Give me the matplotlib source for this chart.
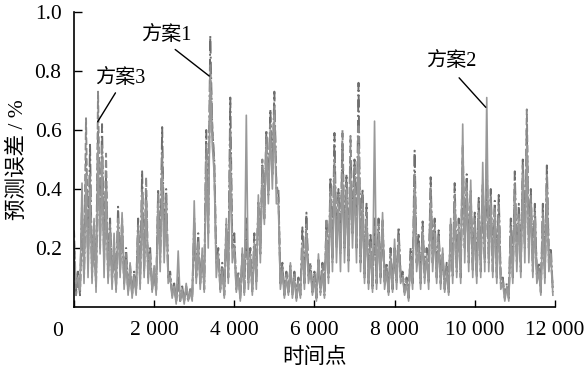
import numpy as np
import matplotlib
matplotlib.use("Agg")
import matplotlib.pyplot as plt

plt.rcParams['font.family'] = ['Liberation Serif', 'Noto Sans CJK SC']

step = 50  # time points between consecutive samples

# peaks (at multiples of 100) and troughs (in between)
s1_peaks = [0.22,0.12,0.35,0.50,0.55,0.28,0.60,0.62,0.45,0.30,0.22,0.34,0.28,0.20,0.14,0.12,0.30,0.46,0.38,0.20,
            0.12,0.40,0.61,0.40,0.12,0.08,0.10,0.07,0.06,0.06,0.30,0.25,0.18,0.60,0.92,0.50,0.20,0.15,0.28,0.71,
            0.25,0.12,0.18,0.30,0.20,0.25,0.36,0.48,0.60,0.67,0.73,0.40,0.15,0.12,0.14,0.12,0.10,0.27,0.32,0.15,
            0.12,0.16,0.15,0.28,0.44,0.59,0.40,0.55,0.45,0.50,0.50,0.76,0.40,0.35,0.25,0.30,0.30,0.28,0.15,0.20,
            0.20,0.27,0.12,0.10,0.20,0.53,0.25,0.29,0.20,0.44,0.30,0.26,0.18,0.15,0.28,0.42,0.30,0.50,0.45,0.40,
            0.32,0.37,0.40,0.50,0.40,0.36,0.38,0.10,0.08,0.30,0.46,0.35,0.50,0.60,0.40,0.35,0.15,0.35,0.48,0.20]
s1_troughs = [0.05,0.04,0.10,0.15,0.10,0.07,0.20,0.15,0.10,0.08,0.06,0.12,0.08,0.05,0.04,0.05,0.08,0.12,0.10,0.06,
              0.05,0.15,0.20,0.10,0.04,0.02,0.02,0.02,0.02,0.03,0.10,0.08,0.06,0.25,0.60,0.15,0.06,0.04,0.10,0.20,
              0.06,0.03,0.05,0.08,0.05,0.08,0.18,0.30,0.38,0.45,0.40,0.08,0.04,0.05,0.04,0.03,0.04,0.08,0.10,0.05,
              0.03,0.05,0.04,0.10,0.15,0.20,0.18,0.20,0.15,0.25,0.20,0.15,0.10,0.08,0.06,0.08,0.10,0.08,0.05,0.06,
              0.08,0.10,0.05,0.03,0.08,0.15,0.08,0.10,0.08,0.15,0.10,0.08,0.06,0.05,0.10,0.12,0.10,0.20,0.15,0.12,
              0.10,0.12,0.15,0.15,0.12,0.10,0.08,0.03,0.03,0.10,0.15,0.12,0.20,0.20,0.12,0.10,0.05,0.10,0.15,0.05]

s2_peaks = [0.18,0.10,0.42,0.45,0.40,0.30,0.55,0.50,0.40,0.25,0.25,0.30,0.32,0.16,0.15,0.10,0.25,0.38,0.36,0.18,
            0.14,0.35,0.45,0.35,0.10,0.07,0.19,0.06,0.08,0.05,0.36,0.22,0.20,0.50,0.78,0.45,0.18,0.12,0.30,0.50,
            0.20,0.10,0.20,0.65,0.18,0.22,0.38,0.45,0.55,0.60,0.65,0.35,0.12,0.10,0.15,0.10,0.08,0.22,0.25,0.12,
            0.10,0.18,0.12,0.25,0.38,0.45,0.35,0.45,0.40,0.45,0.42,0.55,0.35,0.30,0.20,0.63,0.25,0.32,0.12,0.16,
            0.23,0.22,0.10,0.08,0.16,0.40,0.20,0.25,0.18,0.35,0.25,0.22,0.20,0.12,0.30,0.35,0.28,0.62,0.40,0.43,
            0.28,0.32,0.49,0.71,0.35,0.32,0.30,0.08,0.07,0.25,0.38,0.30,0.45,0.55,0.35,0.30,0.12,0.30,0.40,0.18]
s2_troughs = [0.08,0.06,0.08,0.10,0.08,0.05,0.18,0.10,0.08,0.06,0.05,0.10,0.06,0.04,0.03,0.04,0.06,0.10,0.08,0.05,
              0.04,0.12,0.15,0.08,0.03,0.01,0.02,0.01,0.02,0.02,0.08,0.06,0.05,0.20,0.55,0.10,0.05,0.03,0.08,0.15,
              0.05,0.02,0.04,0.06,0.04,0.06,0.15,0.28,0.35,0.40,0.35,0.06,0.03,0.04,0.03,0.02,0.03,0.06,0.08,0.04,
              0.02,0.04,0.03,0.08,0.12,0.15,0.12,0.15,0.12,0.20,0.15,0.12,0.08,0.06,0.05,0.06,0.08,0.06,0.04,0.05,
              0.06,0.08,0.04,0.02,0.06,0.12,0.06,0.08,0.06,0.12,0.08,0.06,0.05,0.04,0.08,0.10,0.08,0.15,0.12,0.10,
              0.08,0.10,0.12,0.12,0.10,0.08,0.06,0.02,0.02,0.08,0.12,0.10,0.15,0.15,0.10,0.08,0.04,0.08,0.12,0.04]

s3_peaks = [0.26,0.09,0.30,0.64,0.45,0.25,0.73,0.55,0.52,0.28,0.20,0.28,0.30,0.18,0.12,0.11,0.28,0.40,0.44,0.16,
            0.13,0.38,0.52,0.38,0.10,0.06,0.08,0.05,0.07,0.06,0.25,0.20,0.16,0.55,0.82,0.48,0.16,0.13,0.25,0.60,
            0.22,0.11,0.16,0.28,0.16,0.20,0.34,0.50,0.58,0.62,0.68,0.38,0.14,0.11,0.12,0.11,0.09,0.20,0.28,0.14,
            0.11,0.15,0.14,0.30,0.40,0.50,0.38,0.60,0.42,0.58,0.48,0.62,0.38,0.32,0.22,0.28,0.28,0.30,0.14,0.18,
            0.18,0.25,0.11,0.09,0.18,0.45,0.22,0.27,0.16,0.40,0.28,0.24,0.16,0.14,0.26,0.38,0.25,0.55,0.42,0.38,
            0.30,0.35,0.42,0.45,0.38,0.34,0.35,0.09,0.06,0.28,0.42,0.32,0.48,0.67,0.38,0.32,0.14,0.32,0.45,0.16]
s3_troughs = [0.04,0.05,0.12,0.18,0.12,0.08,0.25,0.18,0.10,0.10,0.07,0.15,0.10,0.06,0.05,0.06,0.10,0.14,0.12,0.07,
              0.06,0.18,0.22,0.12,0.05,0.02,0.03,0.02,0.03,0.04,0.10,0.10,0.08,0.30,0.62,0.18,0.08,0.05,0.12,0.22,
              0.08,0.04,0.06,0.10,0.06,0.10,0.20,0.32,0.40,0.48,0.42,0.10,0.05,0.06,0.05,0.04,0.05,0.10,0.12,0.06,
              0.04,0.06,0.05,0.12,0.18,0.22,0.20,0.22,0.18,0.28,0.22,0.18,0.12,0.10,0.08,0.10,0.12,0.10,0.06,0.08,
              0.10,0.12,0.06,0.04,0.10,0.18,0.10,0.12,0.10,0.18,0.12,0.10,0.08,0.06,0.12,0.15,0.12,0.22,0.18,0.15,
              0.12,0.15,0.18,0.18,0.15,0.12,0.10,0.04,0.04,0.12,0.18,0.15,0.22,0.22,0.15,0.12,0.06,0.12,0.18,0.06]

series_names = ['方案1', '方案2', '方案3']
xticks = [0, 2000, 4000, 6000, 8000, 10000, 12000]
xticklabels = ['', '2 000', '4 000', '6 000', '8 000', '10 000', '12 000']
yticks = [0.2, 0.4, 0.6, 0.8, 1.0]
yticklabels = ['0.2', '0.4', '0.6', '0.8', '1.0']


def interleave(p, t):
    out = []
    for a, b in zip(p, t):
        out.extend([a, b])
    return np.array(out)


s1 = interleave(s1_peaks, s1_troughs)
s2 = interleave(s2_peaks, s2_troughs)
s3 = interleave(s3_peaks, s3_troughs)
x = np.arange(len(s1)) * step

fig = plt.figure(figsize=(5.85, 3.72), dpi=100)
ax = fig.add_axes([0.1265, 0.1747, 0.822, 0.793])

ax.plot(x, s1, color='#6e6e6e', lw=1.4, ls='-.')
ax.plot(x, s3, color='#8a8a8a', lw=1.4, ls='--')
ax.plot(x, s2, color='#999999', lw=1.2, ls='-')

ax.set_xlim(0, 12000)
ax.set_ylim(0, 1.0)
ax.set_xticks(xticks)
ax.set_xticklabels(xticklabels)
ax.set_yticks(yticks)
ax.set_yticklabels(yticklabels)
ax.tick_params(axis='both', direction='in', labelsize=15.5, width=1.0, colors='black')
ax.tick_params(axis='x', length=5, pad=10)
ax.tick_params(axis='y', length=6, pad=9)
ax.spines['top'].set_visible(False)
ax.spines['right'].set_visible(False)
for sp in ['left', 'bottom']:
    ax.spines[sp].set_linewidth(1.2)

ax.annotate('0', xy=(0, 0), xycoords='data', xytext=(-16, -15),
            textcoords='offset pixels', ha='center', va='top', fontsize=15.5)

ax.set_xlabel('时间点', fontsize=15.5, labelpad=6)
ax.set_ylabel('预测误差 / %', fontsize=15.5, labelpad=5)

txt_kw = dict(fontsize=14.5, ha='center', va='center')
line_kw = dict(arrowprops=dict(arrowstyle='-', color='black', lw=1.0, shrinkA=0, shrinkB=0))
ax.text(2308, 0.922, series_names[0], **txt_kw)
ax.annotate('', xy=(3375, 0.783), xytext=(2525, 0.873), **line_kw)
ax.text(1158, 0.776, series_names[2], **txt_kw)
ax.annotate('', xy=(590, 0.628), xytext=(1035, 0.726), **line_kw)
ax.text(9408, 0.832, series_names[1], **txt_kw)
ax.annotate('', xy=(10275, 0.677), xytext=(9610, 0.777), **line_kw)

fig.savefig('out.png', dpi=100)
